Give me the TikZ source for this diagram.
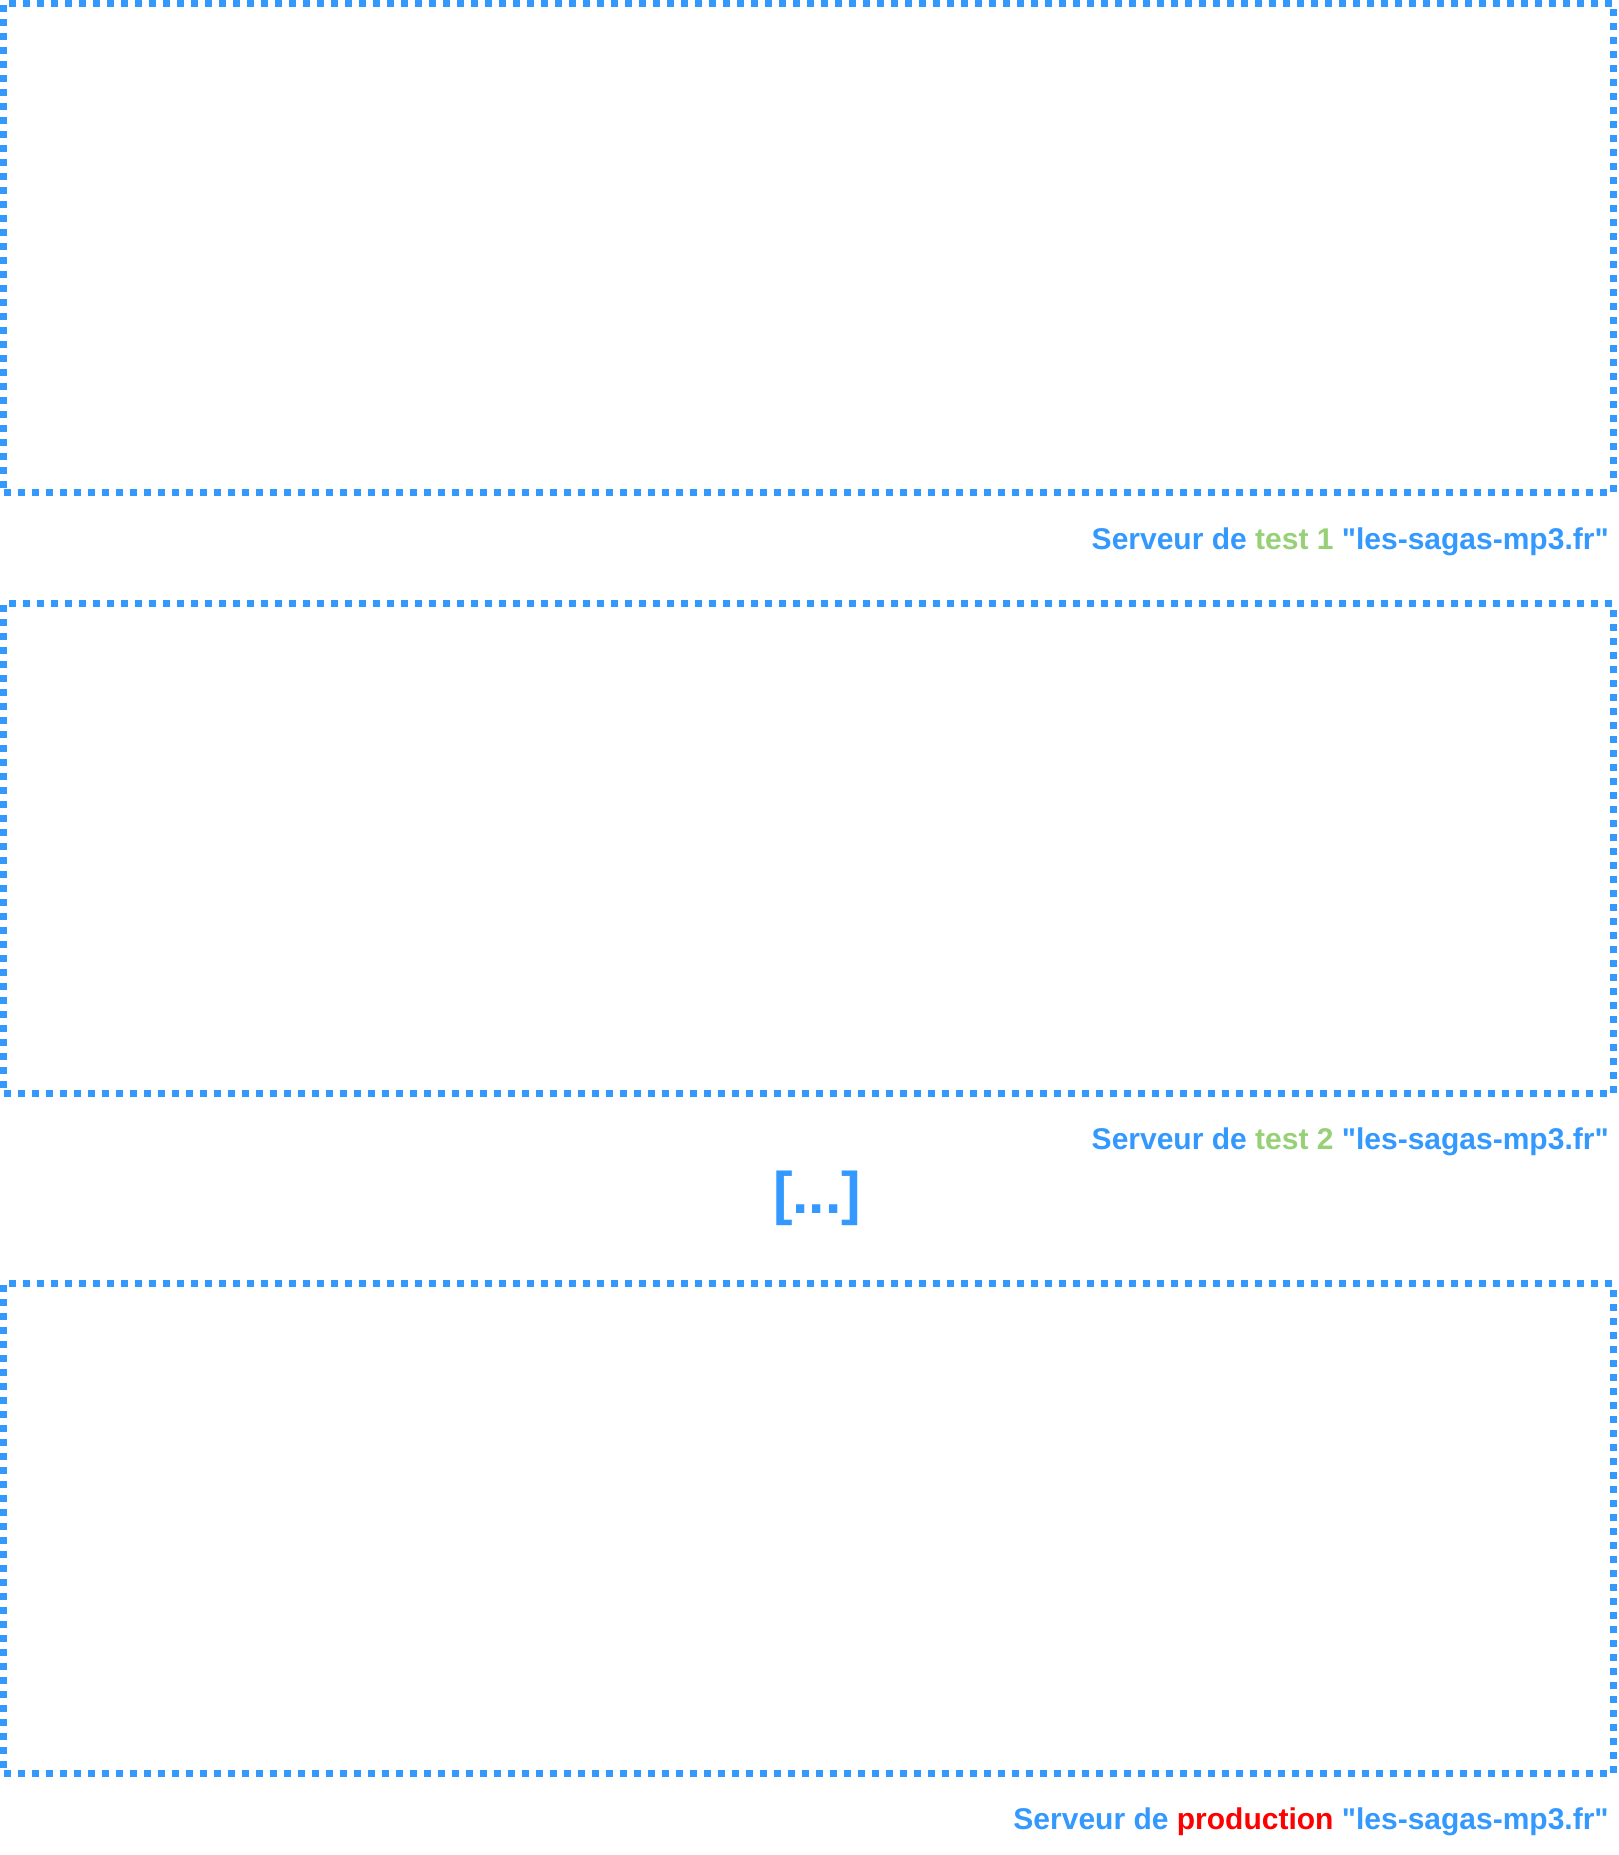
\documentclass[tikz,border=0pt]{standalone}
\usepackage{fontspec}
\setmainfont{Liberation Sans}
\usepackage{tikz}
\usepackage{xcolor}
\usetikzlibrary{positioning}
\definecolor{Azure}{HTML}{3399FF}
\definecolor{Pistachio}{HTML}{97D077}
\definecolor{Signal}{HTML}{FF0000}
\newcommand{\sitename}{\textquotedbl les-sagas-mp3.fr\textquotedbl}
\tikzset{
    every node/.style={font=\bfseries},
    serverbox/.style={
        draw=Azure, line width=5.25pt, dash pattern=on 5.25pt off 5.25pt,
        minimum width=1207.1pt, minimum height=367.1pt,
        inner sep=0pt, sharp corners
    },
    serverlabel/.style={
        anchor=base east, inner sep=0pt, text=Azure,
        font=\fontsize{22.5pt}{27pt}\selectfont\bfseries
    },
    ellipsisnode/.style={
        inner sep=0pt, text=Azure,
        font=\fontsize{44pt}{52pt}\selectfont\bfseries
    },
}

\begin{document}
\begin{tikzpicture}[x=0.75pt, y=-0.75pt]
    \useasboundingbox (0,0) rectangle (1618,1855);

    % Test server 1
    \node[serverbox] (test1) at (808.25,248.25) {};
    \node[serverlabel] (test1label) at (1609,549)
        {Serveur de \textcolor{Pistachio}{test 1} \sitename};

    % Test server 2
    \node[serverbox] (test2) at (808.25,848.5) {};
    \node[serverlabel] (test2label) at (1609,1149)
        {Serveur de \textcolor{Pistachio}{test 2} \sitename};

    % More servers
    \node[ellipsisnode] (more) at (817,1198) {[...]};

    % Production server
    \node[serverbox] (prod) at (808.25,1528.5) {};
    \node[serverlabel] (prodlabel) at (1609,1829)
        {Serveur de \textcolor{Signal}{production} \sitename};
\end{tikzpicture}
\end{document}
